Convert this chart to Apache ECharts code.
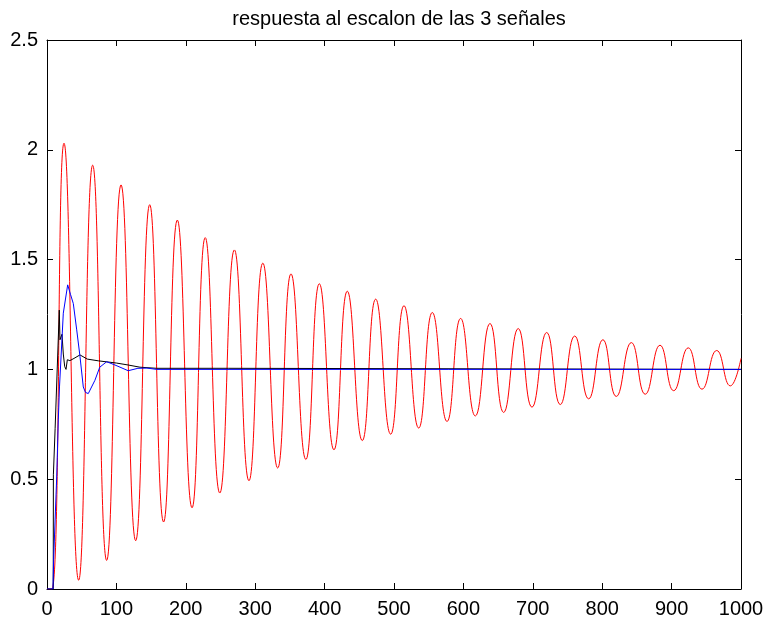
<!DOCTYPE html>
<html>
<head>
<meta charset="utf-8">
<script src="https://cdn.jsdelivr.net/npm/echarts@6/dist/echarts.min.js"></script>
<style>
html,body{margin:0;padding:0;background:#fff;}
#chart{width:769px;height:622px;}
</style>
</head>
<body>
<div id="chart"></div>
<script>
// Chart text
const titleText = 'respuesta al escalon de las 3 señales';
const xTicks = [0, 100, 200, 300, 400, 500, 600, 700, 800, 900, 1000];
const yTicks = [0, 0.5, 1, 1.5, 2, 2.5];

// Red signal: start, then peaks and troughs
const redSignal = [
  [0, 0], [7, 0], [24.5, 2.03], [45.6, 0.04], [65.8, 1.93], [86, 0.13],
  [106.7, 1.84], [127.8, 0.22], [148, 1.75], [168, 0.305], [187.8, 1.68],
  [209, 0.37], [228, 1.60], [249, 0.437], [270, 1.544], [291, 0.493],
  [311, 1.484], [332.4, 0.551], [351.6, 1.435], [373, 0.59], [392.4, 1.39],
  [413.5, 0.634], [432.7, 1.356], [454.3, 0.676], [473.6, 1.32], [495.2, 0.705],
  [514.4, 1.29], [535.6, 0.733], [555.2, 1.259], [576.4, 0.763], [596, 1.232],
  [617.2, 0.788], [638.3, 1.209], [658, 0.804], [679, 1.186], [698.8, 0.828],
  [720, 1.168], [739.6, 0.84], [760.4, 1.152], [780.5, 0.866], [801, 1.135],
  [820.3, 0.877], [842, 1.122], [862, 0.887], [883.3, 1.11], [903, 0.903],
  [924, 1.098], [943.8, 0.91], [965, 1.086], [984.6, 0.925], [1000, 1.05]
];

// Black signal
const blackSignal = [
  [0, 0], [9, 0], [9.2, 0.52], [11.5, 0.52], [11.7, 0.73], [13, 0.73],
  [17.7, 1.27], [18.7, 1.135], [21.6, 1.16], [23.5, 1.07], [25.5, 1.013],
  [27.4, 1.0], [29.3, 1.044], [33, 1.04], [38.9, 1.05], [47.5, 1.066],
  [58, 1.047], [74, 1.039], [100, 1.029], [117, 1.02], [134, 1.01],
  [158, 1.005], [262, 1.005], [263, 1.0], [1000, 1.0]
];

// Blue signal
const blueSignal = [
  [0, 0], [8.6, 0], [9.5, 0.13], [14, 0.51], [16.3, 0.77], [18, 0.92],
  [23.5, 1.256], [29.8, 1.385], [34, 1.34], [37.9, 1.30], [42.8, 1.18],
  [47.5, 1.06], [52.3, 0.92], [55.5, 0.895], [59.5, 0.89], [69, 0.95], [76, 1.01],
  [86, 1.035], [98, 1.02], [117, 0.994], [131, 1.005], [144, 1.006],
  [158, 1.0], [1000, 1.0]
];

const FONT = 'Liberation Sans, Arial, sans-serif';
const chart = echarts.init(document.getElementById('chart'), null, {renderer: 'canvas'});

function xAxisDef(pos, showLabel) {
  return {
    type: 'value', position: pos, min: xTicks[0], max: xTicks[xTicks.length - 1],
    interval: xTicks[1] - xTicks[0],
    axisLine: {show: true, onZero: false, lineStyle: {color: '#000', width: 1}},
    axisTick: {show: true, inside: true, length: 6, lineStyle: {color: '#000', width: 1}},
    axisLabel: {show: showLabel, color: '#000', fontSize: 20, fontFamily: FONT, margin: 10,
      formatter: v => String(v)},
    splitLine: {show: false}
  };
}
function yAxisDef(pos, showLabel) {
  return {
    type: 'value', position: pos, min: yTicks[0], max: yTicks[yTicks.length - 1],
    interval: yTicks[1] - yTicks[0],
    axisLine: {show: true, onZero: false, lineStyle: {color: '#000', width: 1}},
    axisTick: {show: true, inside: true, length: 6, lineStyle: {color: '#000', width: 1}},
    axisLabel: {show: showLabel, color: '#000', fontSize: 20, fontFamily: FONT, margin: 9,
      formatter: v => String(v)},
    splitLine: {show: false}
  };
}

chart.setOption({
  animation: false,
  backgroundColor: '#fff',
  title: {
    text: titleText, left: 394, top: 4, textAlign: 'center',
    textStyle: {color: '#000', fontSize: 20, fontWeight: 'normal', fontFamily: FONT}
  },
  grid: {left: 47, right: 28, top: 40, bottom: 33, containLabel: false},
  xAxis: [xAxisDef('bottom', true), xAxisDef('top', false)],
  yAxis: [yAxisDef('left', true), yAxisDef('right', false)],
  series: [
    {type: 'line', name: 'rojo', data: redSignal, showSymbol: false, smooth: 0.5,
     lineStyle: {color: '#ff0000', width: 1}, itemStyle: {color: '#ff0000'}, z: 2},
    {type: 'line', name: 'negro', data: blackSignal, showSymbol: false,
     lineStyle: {color: '#000000', width: 1}, itemStyle: {color: '#000'}, z: 3},
    {type: 'line', name: 'azul', data: blueSignal, showSymbol: false,
     lineStyle: {color: '#0000ff', width: 1}, itemStyle: {color: '#00f'}, z: 4}
  ]
});
</script>
</body>
</html>
